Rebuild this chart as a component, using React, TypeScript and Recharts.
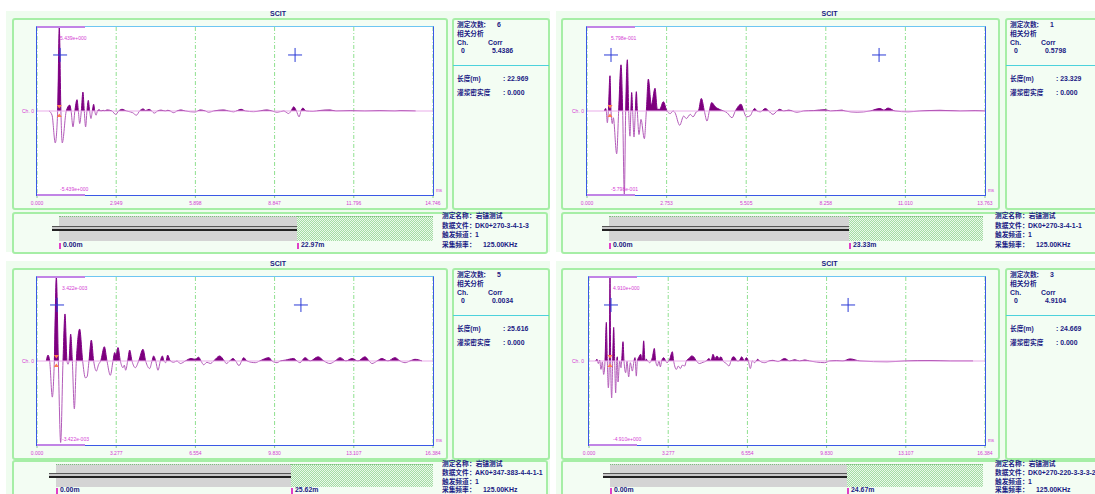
import { AreaChart, Area, XAxis, YAxis, CartesianGrid, ReferenceLine, ReferenceDot } from 'recharts';

type Pt = [number, number];

// [time ms, amplitude as a fraction of the channel full scale]
const trace1: Pt[] = [
  [0.45, 0], [0.56, -0.05], [0.68, -0.38], [0.77, 0], [0.83, 1], [0.89, 0], [0.94, -0.38], [1.09, 0],
  [1.22, 0.07], [1.27, 0], [1.34, -0.19], [1.41, 0], [1.49, 0.135], [1.54, 0], [1.59, -0.15], [1.65, 0],
  [1.71, 0.226], [1.76, 0], [1.81, -0.19], [1.86, 0], [1.91, 0.127], [1.96, 0], [2.01, -0.09], [2.06, 0],
  [2.11, 0.08], [2.15, 0], [2.2, -0.05], [2.25, 0], [2.31, 0.015], [2.38, 0], [2.46, 0.008], [2.52, 0.003],
  [2.61, 0.012], [2.79, 0], [2.93, -0.04], [3.04, 0], [3.17, 0.02], [3.33, 0], [3.47, -0.01], [3.56, -0.02],
  [3.7, -0.05], [3.82, 0], [3.95, 0.025], [4.05, 0.005], [4.17, 0.02], [4.27, 0], [4.37, -0.025], [4.49, 0],
  [4.62, 0.01], [4.78, 0], [4.87, 0.008], [4.96, 0], [5.09, -0.02], [5.21, 0], [5.36, 0.012], [5.52, 0],
  [5.89, -0.012], [6.08, 0.012], [6.27, 0], [6.39, -0.015], [6.58, 0], [6.95, 0.012], [7.14, 0], [7.32, -0.01],
  [7.6, 0.02], [7.76, 0], [8.07, -0.008], [8.56, 0.012], [8.75, 0], [8.94, -0.015], [9.19, 0], [9.37, -0.03],
  [9.46, 0], [9.56, 0.05], [9.66, 0], [9.76, -0.07], [9.83, 0], [9.9, 0.035], [10.02, 0], [10.28, -0.005],
  [10.54, 0.006], [10.91, 0.012], [11.13, 0], [11.66, 0.004], [12.21, 0], [12.77, 0.004], [13.33, 0],
  [13.52, 0.004], [14.1, 0],
];

const trace2: Pt[] = [
  [0.6, 0], [0.645, 0.03], [0.668, 0], [0.703, -0.14], [0.738, 0], [0.795, 0.42], [0.83, 0], [0.876, -0.15],
  [0.91, -0.08], [1.026, -0.51], [1.095, 0], [1.176, 0.55], [1.233, 0], [1.291, -1], [1.337, 0], [1.395, 0.61],
  [1.441, 0], [1.487, -0.3], [1.516, 0], [1.545, 0.22], [1.579, 0], [1.625, -0.31], [1.671, 0], [1.706, 0.23],
  [1.741, 0], [1.798, -0.28], [1.867, -0.1], [1.983, -0.33], [2.052, 0], [2.121, 0.38], [2.225, 0.07],
  [2.352, 0.27], [2.432, 0.02], [2.513, 0.02], [2.64, 0.11], [2.766, 0], [2.882, -0.03], [2.974, 0],
  [3.043, -0.02], [3.205, -0.17], [3.343, -0.06], [3.435, -0.09], [3.573, -0.04], [3.666, -0.07],
  [3.781, -0.01], [3.85, 0], [3.954, 0.15], [4.058, 0], [4.15, -0.12], [4.23, 0], [4.311, 0.1], [4.438, 0.05],
  [4.611, 0.015], [4.726, 0], [4.841, -0.02], [5.014, -0.08], [5.13, 0], [5.326, 0.08], [5.418, 0],
  [5.51, -0.07], [5.648, -0.055], [5.729, 0], [5.798, 0.03], [5.879, 0], [5.994, -0.01], [6.167, 0.03],
  [6.282, 0], [6.432, -0.04], [6.57, 0], [6.663, 0.02], [6.801, 0], [6.974, 0.01], [7.262, -0.015], [7.493, 0],
  [7.838, 0.005], [8.242, 0.015], [8.415, 0], [8.818, 0.01], [8.92, 0], [9.34, -0.015], [9.79, 0], [10.13, 0.03],
  [10.27, 0.01], [10.41, 0.035], [10.65, 0], [11.1, -0.01], [11.51, 0], [12.21, 0.008], [12.9, 0],
  [13.42, 0.004], [13.76, 0],
];

const trace3: Pt[] = [
  [0.386, 0], [0.455, 0.07], [0.524, 0], [0.634, -0.43], [0.717, 0], [0.8, 1], [0.883, 0], [0.979, -0.97],
  [1.076, 0], [1.158, 0.56], [1.241, 0], [1.283, -0.04], [1.324, 0], [1.393, 0.32], [1.462, 0], [1.545, -0.57],
  [1.627, 0], [1.765, 0.38], [1.889, 0], [2.0, -0.2], [2.069, -0.19], [2.151, 0], [2.248, 0.25], [2.344, 0],
  [2.455, -0.12], [2.551, -0.04], [2.634, 0], [2.786, 0.17], [2.896, 0], [3.034, -0.17], [3.144, 0],
  [3.213, 0.1], [3.268, 0.07], [3.351, 0.16], [3.448, 0], [3.558, -0.08], [3.613, -0.05], [3.668, -0.11],
  [3.751, 0], [3.834, 0.13], [3.93, 0], [4.068, -0.08], [4.206, 0], [4.386, 0.14], [4.496, 0], [4.661, -0.09],
  [4.758, 0], [4.827, 0.06], [4.91, 0], [5.006, -0.11], [5.103, 0], [5.185, 0.06], [5.254, 0], [5.323, -0.02],
  [5.406, 0.07], [5.516, 0], [5.654, -0.015], [5.792, 0], [5.93, -0.03], [6.137, 0], [6.371, 0.03],
  [6.551, 0.02], [6.689, 0.045], [6.785, 0], [6.896, -0.045], [7.033, -0.015], [7.171, -0.03], [7.309, 0],
  [7.557, 0.06], [7.751, 0], [7.833, -0.03], [7.971, 0], [8.109, 0.03], [8.219, 0], [8.357, -0.055],
  [8.468, 0], [8.55, 0.04], [8.688, 0], [9.033, -0.02], [9.212, 0], [9.599, 0.04], [9.722, 0], [9.93, -0.02],
  [10.067, 0], [10.274, 0.01], [10.619, 0.03], [10.757, 0], [10.88, -0.02], [11.09, 0.04], [11.3, 0],
  [11.63, 0.05], [11.87, 0], [12.12, -0.03], [12.33, 0], [12.54, 0.04], [12.78, 0], [13.03, 0.03], [13.28, 0],
  [13.57, 0.05], [13.74, 0], [13.86, -0.03], [14.07, 0], [14.27, 0.03], [14.52, 0], [14.81, 0.04], [15.02, 0],
  [15.23, -0.02], [15.43, 0], [15.64, 0.02], [15.93, 0],
];

const trace4: Pt[] = [
  [0.276, 0], [0.331, 0.02], [0.386, -0.03], [0.441, 0.01], [0.496, -0.1], [0.552, -0.01], [0.607, -0.16],
  [0.662, 0], [0.717, 0.46], [0.758, 0], [0.8, -0.32], [0.841, 0], [0.869, 1], [0.896, 0], [0.938, -0.44],
  [0.979, 0], [1.021, 0.4], [1.062, 0], [1.103, -0.38], [1.145, 0], [1.172, 0.05], [1.2, -0.25], [1.269, 0],
  [1.324, -0.08], [1.351, 0], [1.407, 0.23], [1.448, 0], [1.517, -0.14], [1.572, 0], [1.641, -0.19],
  [1.71, -0.02], [1.793, -0.12], [1.862, 0], [1.903, 0.04], [1.958, -0.18], [2.0, 0], [2.069, 0.05],
  [2.138, 0.08], [2.206, 0], [2.262, 0.24], [2.317, 0], [2.372, 0.02], [2.427, 0], [2.51, -0.02], [2.62, 0.04],
  [2.703, 0.15], [2.758, 0], [2.827, -0.06], [2.896, 0], [2.951, -0.07], [3.006, 0], [3.089, 0.04], [3.172, 0],
  [3.227, -0.02], [3.337, 0.02], [3.448, 0.11], [3.503, 0], [3.613, -0.1], [3.696, -0.06], [3.779, -0.09],
  [3.861, -0.05], [3.958, -0.06], [4.027, 0], [4.137, 0.03], [4.248, 0.06], [4.33, 0.05], [4.441, 0],
  [4.578, -0.03], [4.716, -0.015], [4.854, 0], [4.965, 0.03], [5.047, 0], [5.13, 0.08], [5.213, 0.03],
  [5.296, 0.06], [5.378, 0.03], [5.461, 0.05], [5.544, 0], [5.682, -0.03], [5.792, -0.06], [5.875, 0],
  [5.958, 0.05], [6.04, 0.04], [6.123, 0], [6.206, 0], [6.316, 0.05], [6.426, 0], [6.509, 0.04], [6.592, 0],
  [6.675, -0.09], [6.757, 0], [6.854, -0.02], [6.978, 0.02], [7.061, 0], [7.268, -0.02], [7.447, 0],
  [7.612, 0.008], [7.819, -0.008], [8.095, 0.03], [8.302, 0], [8.509, 0.015], [8.716, 0], [8.923, 0.012],
  [9.13, 0], [9.405, -0.012], [9.75, -0.02], [9.957, 0], [10.233, 0.004], [10.51, 0], [10.8, 0.025],
  [11.21, 0], [12.33, -0.01], [13.07, 0], [14.11, 0.005], [14.94, 0], [15.89, 0],
];

const ticks1 = [0, 2.949, 5.898, 8.847, 11.796, 14.746];
const ticks2 = [0, 2.753, 5.505, 8.258, 11.01, 13.763];
const ticks34 = [0, 3.277, 6.554, 9.83, 13.107, 16.384];

const fullScale = [5.439, 0.5798, 0.003422, 4.91];
const shotCounts = ['6', '1', '5', '3'];
const corrValues = ['5.4386', '0.5798', '0.0034', '4.9104'];
const lengthValues = ['22.969', '23.329', '25.616', '24.669'];
const densityValues = ['0.000', '0.000', '0.000', '0.000'];
const fileNames = ['DK0+270-3-4-1-3', 'DK0+270-3-4-1-1', 'AK0+347-383-4-4-1-1', 'DK0+270-220-3-3-3-2'];
const barLabels = ['22.97m', '23.33m', '25.62m', '24.67m'];
const peakTimes = [0.83, 0.795, 0.8, 0.869];
const cursorTimes = [[0.86, 9.61], [0.83, 10.1], [0.83, 10.92], [0.91, 10.72]];

const traces = [trace1, trace2, trace3, trace4];
const tickSets = [ticks1, ticks2, ticks34, ticks34];

// strip rows: text line centres, bar top/height, length label centre (relative to panel)
const topStrip = { rows: [216.5, 226, 235.5, 245], barTop: 216, barH: 25, lab: 245.5 };
const lowStrip = { rows: [214.5, 223.5, 232.5, 240.5], barTop: 214, barH: 23, lab: 240.5 };

const layout = [
  { ox: 0, oy: 0, px: 37, pw: 396, extra: 0, strip: topStrip, ampX: 23, bar: [59, 297], rod: 52 },
  { ox: 550, oy: 0, px: 37, pw: 398, extra: 3, strip: topStrip, ampX: 24, bar: [59, 299], rod: 52 },
  { ox: 0, oy: 250, px: 37, pw: 396, extra: 0, strip: lowStrip, ampX: 25, bar: [56, 291], rod: 49 },
  { ox: 550, oy: 250, px: 39, pw: 396, extra: 3, strip: lowStrip, ampX: 24, bar: [60, 297], rod: 53 },
];

const PLOT_H = 168;
const FONT = "'Liberation Sans', Arial, 'Noto Sans CJK SC', sans-serif";
const NAVY = '#1a1a84';
const MAGENTA = '#d43cd4';
const GREEN_EDGE = '#a6eea6';
const CJK = 6.7;
const LAT = 6.9;

function fmtExp(v: number) {
  const [m, e] = v.toExponential(3).split('e');
  const n = Math.abs(parseInt(e, 10));
  return `${m}e${e[0] === '-' ? '-' : '+'}${String(n).padStart(3, '0')}`;
}

function Txt({ x, y, size = LAT, color = NAVY, weight = 700, center = false, children }: any) {
  return (
    <div style={{
      position: 'absolute', left: x, top: y - size * 0.62, fontSize: size, lineHeight: `${size * 1.24}px`,
      fontWeight: weight, color, fontFamily: FONT, whiteSpace: 'nowrap',
      transform: center ? 'translateX(-50%)' : undefined,
    }}>{children}</div>
  );
}

function Box({ x, y, w, h, bg = '#f3fdf3', border = GREEN_EDGE, bw = 2 }: any) {
  return (
    <div style={{
      position: 'absolute', left: x, top: y, width: w, height: h, boxSizing: 'border-box',
      background: bg, border: `${bw}px solid ${border}`, borderRadius: 3,
    }} />
  );
}

const Cross = ({ cx, cy }: any) => (
  <g stroke="#2a3ad6" strokeWidth={1}>
    <line x1={cx - 7} y1={cy} x2={cx + 7} y2={cy} />
    <line x1={cx} y1={cy - 7} x2={cx} y2={cy + 7} />
  </g>
);

const PeakMarks = ({ cx, cy }: any) => (
  <g fill="#ff7c4c">
    <path d={`M${cx - 2.5},${cy - 6} h5 l-2.5,3.5 z`} />
    <path d={`M${cx - 2.5},${cy + 6} h5 l-2.5,-3.5 z`} />
  </g>
);

const TimeTick = ({ x, y, payload }: any) => (
  <text x={x} y={y + 5} textAnchor="middle" fontSize={5} fill={MAGENTA} fontFamily={FONT}>
    {Number(payload.value).toFixed(3)}
  </text>
);

function Panel({ idx }: { idx: number }) {
  const L = layout[idx];
  const S = L.strip;
  const amp = fullScale[idx];
  const ticks = tickSets[idx];
  const data = traces[idx].map(([t, f]) => ({ t, v: f * amp }));
  const { ox, oy, px, pw, extra } = L;
  const left = ox + px;
  const top = oy + 27;
  const il = ox + 452 + extra;
  const bx = ox + 442 + extra;
  const edge = extra ? 1 : 0;

  return (
    <>
      <div style={{ position: 'absolute', left: ox + 6, top: oy + 11, width: 544 + extra, height: 241, background: '#effcef' }} />
      <Txt x={ox + 278 + extra / 2} y={oy + 14.5} size={7} center>SCIT</Txt>

      {/* waveform frame */}
      <Box x={ox + 12 - edge} y={oy + 18} w={436 + extra} h={192} />
      <div style={{ position: 'absolute', left, top, width: pw, height: PLOT_H, background: '#fff' }} />
      <div style={{ position: 'absolute', left: left - 20, top }}>
        <AreaChart width={pw + 40} height={PLOT_H + 16} data={data} margin={{ top: 0, right: 20, bottom: 0, left: 20 }}>
          <defs>
            <linearGradient id={`fill${idx}`} gradientUnits="userSpaceOnUse" x1="0" y1="0" x2="0" y2={PLOT_H}>
              <stop offset="0.5" stopColor="#7c007c" stopOpacity={1} />
              <stop offset="0.5" stopColor="#7c007c" stopOpacity={0} />
            </linearGradient>
            <linearGradient id={`edge${idx}`} gradientUnits="userSpaceOnUse" x1="0" y1="0" x2="0" y2={PLOT_H}>
              <stop offset="0.5" stopColor="#800086" />
              <stop offset="0.5" stopColor="#b25ab8" />
            </linearGradient>
          </defs>
          <CartesianGrid horizontal={false} stroke="#8fe08f" strokeDasharray="4 2 1 2" />
          <XAxis
            dataKey="t" type="number" domain={[0, ticks[ticks.length - 1]]} ticks={ticks} interval={0}
            height={16} tickSize={3} axisLine={false} allowDataOverflow
            tickLine={{ stroke: '#8cc88c' }} tick={<TimeTick />}
          />
          <YAxis hide type="number" domain={[-amp, amp]} allowDataOverflow />
          <ReferenceLine y={0} stroke="#e9aee9" strokeWidth={1.2} />
          <Area
            type="monotone" dataKey="v" baseValue={0} stroke={`url(#edge${idx})`} strokeWidth={1}
            fill={`url(#fill${idx})`} fillOpacity={1} dot={false} activeDot={false} isAnimationActive={false}
          />
          <ReferenceDot x={peakTimes[idx]} y={0} shape={PeakMarks} />
          <ReferenceDot x={cursorTimes[idx][0]} y={amp * 0.667} shape={Cross} />
          <ReferenceDot x={cursorTimes[idx][1]} y={amp * 0.667} shape={Cross} />
        </AreaChart>
      </div>
      <div style={{
        position: 'absolute', left: left - 1, top: top - 1, width: pw + 2, height: PLOT_H + 2, boxSizing: 'border-box',
        border: '1.5px solid #3a58e6', borderTopColor: '#6ec6f2', pointerEvents: 'none',
      }} />
      <div style={{ position: 'absolute', left, top: top - 1, width: 48, height: 2, background: '#c184e6' }} />
      <div style={{ position: 'absolute', left, top: top + PLOT_H - 1, width: 48, height: 2, background: '#c184e6' }} />
      <Txt x={left + L.ampX} y={top + 11} size={5} color={MAGENTA} weight={400}>{fmtExp(amp)}</Txt>
      <Txt x={left + L.ampX} y={top + 162} size={5} color={MAGENTA} weight={400}>{fmtExp(-amp)}</Txt>
      <Txt x={ox + 22} y={oy + 111} size={5} color={MAGENTA} weight={400}>Ch. 0</Txt>
      <Txt x={left + pw + 3} y={oy + 191} size={4.5} color={MAGENTA} weight={400}>ms</Txt>

      {/* info column */}
      <Box x={il} y={oy + 18} w={98} h={192} />
      <div style={{ position: 'absolute', left: il + 1, top: oy + 65, width: 96, height: 1, background: '#4cd2dc' }} />
      <Txt x={il + 5} y={oy + 25} size={CJK}>测定次数</Txt>
      <Txt x={il + 31} y={oy + 25} size={CJK}>：</Txt>
      <Txt x={il + 45} y={oy + 25}>{shotCounts[idx]}</Txt>
      <Txt x={il + 5} y={oy + 34} size={CJK}>相关分析</Txt>
      <Txt x={il + 5} y={oy + 43}>Ch.</Txt>
      <Txt x={il + 36} y={oy + 43}>Corr</Txt>
      <Txt x={il + 9} y={oy + 51.5}>0</Txt>
      <Txt x={il + 40} y={oy + 51.5}>{corrValues[idx]}</Txt>
      <Txt x={il + 5} y={oy + 79} size={CJK}>长度(m)</Txt>
      <Txt x={il + 51} y={oy + 79}>: {lengthValues[idx]}</Txt>
      <Txt x={il + 5} y={oy + 93} size={CJK}>灌浆密实度</Txt>
      <Txt x={il + 51} y={oy + 93}>: {densityValues[idx]}</Txt>

      {/* anchor bar strip */}
      <Box x={ox + 12 - edge} y={oy + S.barTop - 4} w={536 + extra + edge} h={42} />
      <div style={{
        position: 'absolute', left: ox + L.bar[0], top: oy + S.barTop, width: L.bar[1] - L.bar[0], height: S.barH,
        background: '#d4d4d4', borderTop: '1px dotted #7cc07c', boxSizing: 'border-box',
      }} />
      <div style={{
        position: 'absolute', left: ox + L.bar[1], top: oy + S.barTop, width: 433 - L.bar[1], height: S.barH,
        backgroundColor: '#c6ecc6',
        backgroundImage: 'repeating-conic-gradient(#a4dca4 0% 25%, #eaf9ea 0% 50%)', backgroundSize: '2px 2px',
        borderTop: '1px dotted #7cc07c', boxSizing: 'border-box',
      }} />
      <div style={{
        position: 'absolute', left: ox + L.rod, top: oy + S.barTop + S.barH / 2 - 3, width: L.bar[1] - L.rod, height: 5,
        background: '#c8c8c8', borderTop: '1px solid #555', borderBottom: '2px solid #222', boxSizing: 'border-box',
      }} />
      <div style={{ position: 'absolute', left: ox + L.bar[0], top: oy + S.lab - 3, width: 1.5, height: 6, background: '#e040c8' }} />
      <Txt x={ox + L.bar[0] + 4} y={oy + S.lab}>0.00m</Txt>
      <div style={{ position: 'absolute', left: ox + L.bar[1], top: oy + S.lab - 3, width: 1.5, height: 6, background: '#e040c8' }} />
      <Txt x={ox + L.bar[1] + 4} y={oy + S.lab}>{barLabels[idx]}</Txt>

      <Txt x={bx} y={oy + S.rows[0]} size={CJK}>测定名称</Txt>
      <Txt x={bx + 27} y={oy + S.rows[0]} size={CJK}>：岩锚测试</Txt>
      <Txt x={bx} y={oy + S.rows[1]} size={CJK}>数据文件</Txt>
      <Txt x={bx + 27} y={oy + S.rows[1]} size={CJK}>：</Txt>
      <Txt x={bx + 33} y={oy + S.rows[1]}>{fileNames[idx]}</Txt>
      <Txt x={bx} y={oy + S.rows[2]} size={CJK}>触发频道</Txt>
      <Txt x={bx + 27} y={oy + S.rows[2]} size={CJK}>：</Txt>
      <Txt x={bx + 33} y={oy + S.rows[2]}>1</Txt>
      <Txt x={bx} y={oy + S.rows[3]} size={CJK}>采集频率</Txt>
      <Txt x={bx + 27} y={oy + S.rows[3]} size={CJK}>：</Txt>
      <Txt x={bx + 41} y={oy + S.rows[3]}>125.00KHz</Txt>
    </>
  );
}

export default function App() {
  return (
    <div style={{ position: 'absolute', left: 0, top: 0, width: 1095, height: 494, overflow: 'hidden', background: '#fff' }}>
      {[0, 1, 2, 3].map(i => <Panel key={i} idx={i} />)}
    </div>
  );
}
